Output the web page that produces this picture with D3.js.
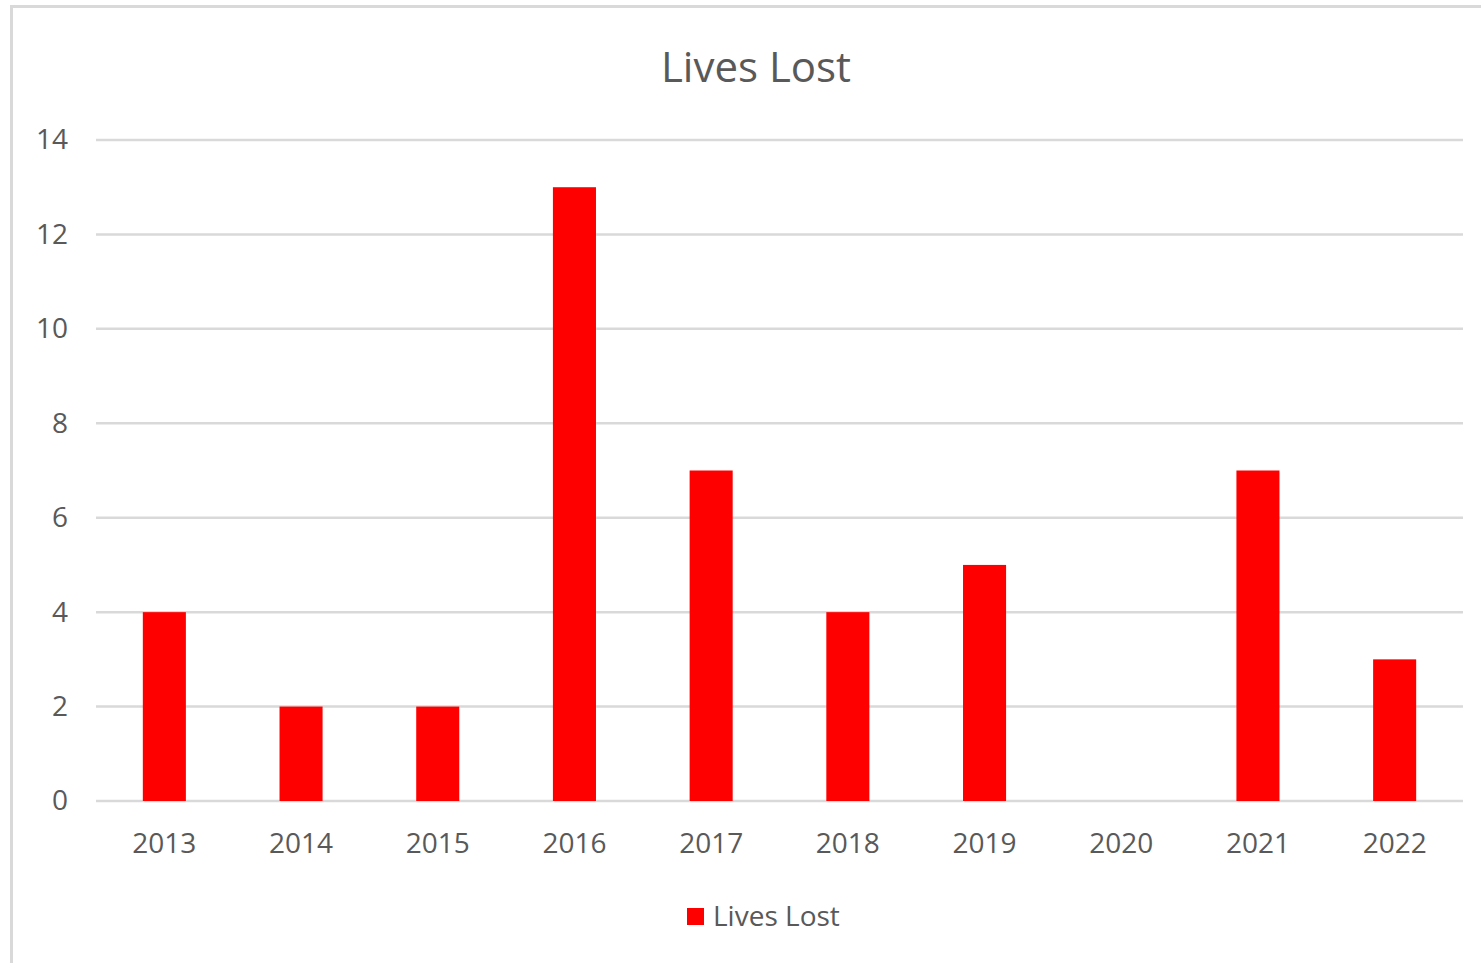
<!DOCTYPE html>
<html>
<head>
<meta charset="utf-8">
<script src="https://cdn.jsdelivr.net/npm/d3@7"></script>
<style>
  body { margin: 0; background: #fff; }
  text { font-family: "Open Sans", "Noto Sans", sans-serif; fill: #595959; }
</style>
</head>
<body>
<script>
// data
var years = ["2013", "2014", "2015", "2016", "2017", "2018", "2019", "2020", "2021", "2022"];
var livesLost = [4, 2, 2, 13, 7, 4, 5, 0, 7, 3];
var yTicks = [0, 2, 4, 6, 8, 10, 12, 14];
var seriesName = "Lives Lost";

var svgWidth = 1481, svgHeight = 963;
var margin = { top: 140, right: 18, bottom: 162, left: 96 };
var chartWidth = 1463 - margin.left;
var chartHeight = 801 - margin.top;

var svg = d3.select("body").append("svg")
    .attr("width", svgWidth)
    .attr("height", svgHeight);

// chart area border
svg.append("rect")
    .attr("x", 11.5)
    .attr("y", 6.5)
    .attr("width", 1520)
    .attr("height", 1000)
    .attr("fill", "none")
    .attr("stroke", "#d9d9d9")
    .attr("stroke-width", 3);

// title
svg.append("text")
    .attr("x", 756)
    .attr("y", 82)
    .attr("text-anchor", "middle")
    .style("font-size", "42px")
    .text(seriesName);

var chartGroup = svg.append("g")
    .attr("transform", `translate(${margin.left}, ${margin.top})`);

var yScale = d3.scaleLinear()
    .domain([0, 14])
    .range([chartHeight, 0]);

var xScale = d3.scaleBand()
    .domain(years)
    .range([0, chartWidth])
    .paddingInner(0.685)
    .paddingOuter(0.3425);

// gridlines
chartGroup.selectAll(".grid")
    .data(yTicks)
    .enter()
    .append("line")
    .attr("x1", 0)
    .attr("x2", chartWidth)
    .attr("y1", d => yScale(d))
    .attr("y2", d => yScale(d))
    .attr("stroke", "#d9d9d9")
    .attr("stroke-width", 2.5);

// y axis labels
var yAxis = d3.axisLeft(yScale).tickValues(yTicks).tickSize(0).tickPadding(28);
chartGroup.append("g")
    .call(yAxis)
    .call(g => g.select(".domain").remove())
    .selectAll("text")
    .style("font-size", "28px")
    .attr("fill", "#595959");

// bars
chartGroup.selectAll("rect.bar")
    .data(livesLost)
    .enter()
    .append("rect")
    .attr("class", "bar")
    .attr("x", (d, i) => xScale(years[i]))
    .attr("y", d => yScale(d))
    .attr("width", xScale.bandwidth())
    .attr("height", d => chartHeight - yScale(d))
    .attr("fill", "#ff0000");

// x axis labels
var xAxis = d3.axisBottom(xScale).tickSize(0).tickPadding(32);
chartGroup.append("g")
    .attr("transform", `translate(0, ${chartHeight})`)
    .call(xAxis)
    .call(g => g.select(".domain").remove())
    .selectAll("text")
    .style("font-size", "28px")
    .attr("fill", "#595959");

// legend
var legend = svg.append("g").attr("transform", "translate(687, 908)");
legend.append("rect")
    .attr("width", 17)
    .attr("height", 17)
    .attr("fill", "#ff0000");
legend.append("text")
    .attr("x", 26)
    .attr("y", 18)
    .style("font-size", "28px")
    .text(seriesName);
</script>
</body>
</html>
